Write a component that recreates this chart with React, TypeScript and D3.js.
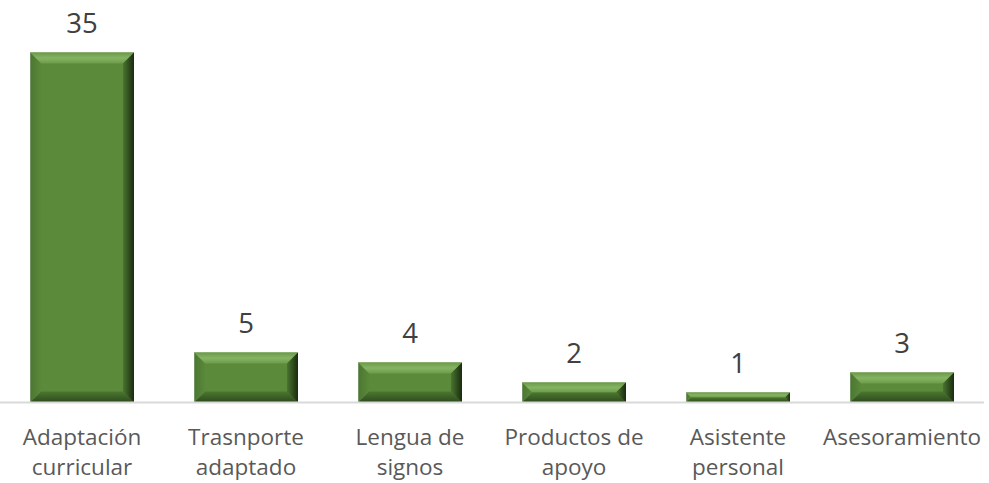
import React from "react";
import * as d3 from "d3";

const categories: string[][] = [
  ["Adaptación", "curricular"],
  ["Trasnporte", "adaptado"],
  ["Lengua de", "signos"],
  ["Productos de", "apoyo"],
  ["Asistente", "personal"],
  ["Asesoramiento"],
];
const values: number[] = [35, 5, 4, 2, 1, 3];

const W = 989;
const H = 483;
const FONT = "'Open Sans', 'Noto Sans', sans-serif";

export default function App() {
  const ids = categories.map((_, i) => String(i));
  const x = d3.scaleBand<string>().domain(ids).range([0, 984]).paddingInner(0.366).paddingOuter(0.183);
  const y = d3.scaleLinear().domain([0, 35]).range([402.5, 52.5]);
  const bw = x.bandwidth();

  return (
    <svg width={W} height={H} style={{ position: "absolute", left: 0, top: 0, background: "#fff" }}>
      <defs>
        <linearGradient id="gTop" x1="0" y1="0" x2="0" y2="1">
          <stop offset="0" stopColor="#6a9a46" />
          <stop offset="0.5" stopColor="#86b465" />
          <stop offset="1" stopColor="#6c9c49" />
        </linearGradient>
        <linearGradient id="gBot" x1="0" y1="0" x2="0" y2="1">
          <stop offset="0" stopColor="#4c7631" />
          <stop offset="1" stopColor="#2c4a1c" />
        </linearGradient>
        <linearGradient id="gRight" x1="0" y1="0" x2="1" y2="0">
          <stop offset="0" stopColor="#4a7430" />
          <stop offset="1" stopColor="#192b0f" />
        </linearGradient>
        <linearGradient id="gLeft" x1="0" y1="0" x2="1" y2="0">
          <stop offset="0" stopColor="#4b7631" />
          <stop offset="1" stopColor="#5a893a" />
        </linearGradient>
      </defs>
      {values.map((v, i) => {
        const x0 = x(String(i))!;
        const y0 = y(v);
        const y1 = y(0);
        const h = y1 - y0;
        const b = Math.min(11, h / 2, bw / 2);
        const x1 = x0 + bw;
        const pts = (arr: number[][]) => arr.map((p) => p.join(",")).join(" ");
        return (
          <g key={i}>
            <rect x={x0} y={y0} width={bw} height={h} fill="#5b8a3b" />
            <polygon points={pts([[x0, y0], [x1, y0], [x1 - b, y0 + b], [x0 + b, y0 + b]])} fill="url(#gTop)" />
            <polygon points={pts([[x0, y1], [x1, y1], [x1 - b, y1 - b], [x0 + b, y1 - b]])} fill="url(#gBot)" />
            <polygon points={pts([[x0, y0], [x0 + b, y0 + b], [x0 + b, y1 - b], [x0, y1]])} fill="url(#gLeft)" />
            <polygon points={pts([[x1, y0], [x1 - b, y0 + b], [x1 - b, y1 - b], [x1, y1]])} fill="url(#gRight)" />
            <line x1={x0 + 0.5} x2={x0 + 0.5} y1={y0} y2={y1} stroke="#8fa884" strokeWidth={1} opacity={0.6} />
          </g>
        );
      })}
      <line x1={0} x2={984} y1={y(0)} y2={y(0)} stroke="#d9d9d9" strokeWidth={2} />
      {values.map((v, i) => (
        <text
          key={"v" + i}
          x={x(String(i))! + bw / 2}
          y={y(v) - 20}
          textAnchor="middle"
          fontFamily={FONT}
          fontSize={27.5}
          fill="#404040"
        >
          {v}
        </text>
      ))}
      {categories.map((lines, i) => (
        <text
          key={"c" + i}
          x={x(String(i))! + bw / 2}
          y={444.5}
          textAnchor="middle"
          fontFamily={FONT}
          fontSize={22.5}
          fill="#595959"
        >
          {lines.map((l, j) => (
            <tspan key={j} x={x(String(i))! + bw / 2} y={444.5 + j * 30.5}>
              {l}
            </tspan>
          ))}
        </text>
      ))}
    </svg>
  );
}
